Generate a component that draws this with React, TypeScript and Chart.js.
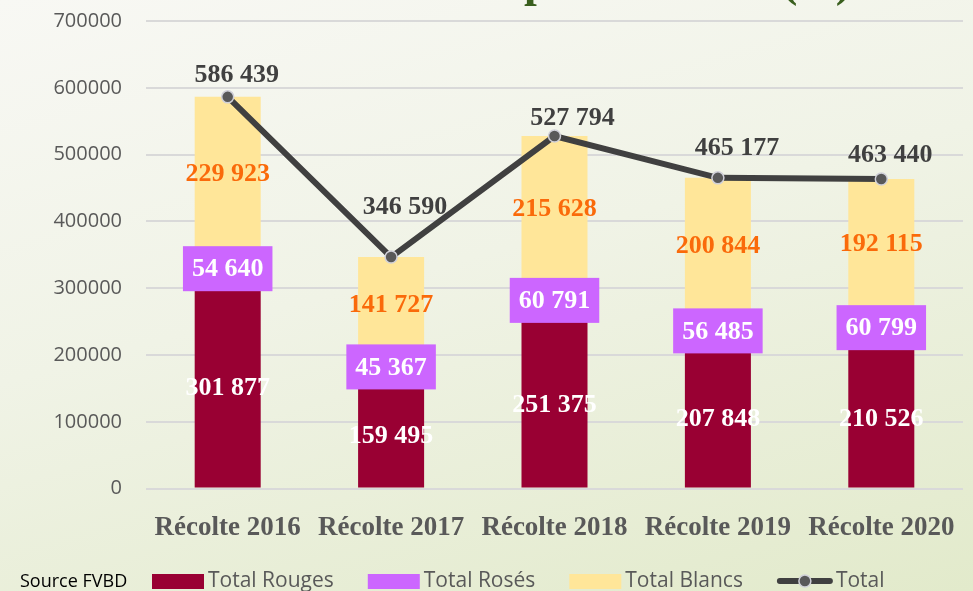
import React, { useEffect, useRef } from "react";
import { Chart, registerables } from "chart.js";
Chart.register(...registerables);

const categories = ["Récolte 2016", "Récolte 2017", "Récolte 2018", "Récolte 2019", "Récolte 2020"];
const rouges = [301877, 159495, 251375, 207848, 210526];
const roses = [54640, 45367, 60791, 56485, 60799];
const blancs = [229923, 141727, 215628, 200844, 192115];
const totals = [586439, 346590, 527794, 465177, 463440];
const seriesNames = ["Total Rouges", "Total Rosés", "Total Blancs", "Total"];
const sourceText = "Source FVBD";
const titleText = "Récoltes par couleurs (hl)";

// label placement tweaks (layout only)
const totalLabelShift = [[9, -23], [14, -51], [18, -19], [19, -31], [9, -25]];

const COL_ROUGE = "#990033";
const COL_ROSE = "#CC66FF";
const COL_BLANC = "#FFE699";
const COL_LINE = "#404040";
const COL_ORANGE = "#FA6A0A";
const LABEL_FONT = "bold 26px 'Liberation Serif', serif";
const LEGEND_FONT = "21px 'Open Sans', sans-serif";

const fmt = (v: number) => String(v).replace(/\B(?=(\d{3})+(?!\d))/g, " ");

const labelsPlugin = {
  id: "customLabels",
  afterDatasetsDraw(chart: any) {
    const ctx = chart.ctx as CanvasRenderingContext2D;
    ctx.save();
    ctx.font = LABEL_FONT;
    ctx.textAlign = "center";
    ctx.textBaseline = "middle";
    const m0 = chart.getDatasetMeta(0);
    const m1 = chart.getDatasetMeta(1);
    const m2 = chart.getDatasetMeta(2);
    const m3 = chart.getDatasetMeta(3);
    m0.data.forEach((el: any, i: number) => {
      ctx.fillStyle = "#FFFFFF";
      ctx.fillText(fmt(rouges[i]), el.x, (el.y + el.base) / 2 + 1);
    });
    m1.data.forEach((el: any, i: number) => {
      const t = fmt(roses[i]);
      const w = ctx.measureText(t).width + 18;
      const h = 45;
      const cy = (el.y + el.base) / 2;
      ctx.fillStyle = COL_ROSE;
      ctx.fillRect(el.x - w / 2, cy - h / 2, w, h);
      ctx.fillStyle = "#FFFFFF";
      ctx.fillText(t, el.x, cy + 1);
    });
    m2.data.forEach((el: any, i: number) => {
      ctx.fillStyle = COL_ORANGE;
      ctx.fillText(fmt(blancs[i]), el.x, (el.y + el.base) / 2 + 1);
    });
    m3.data.forEach((el: any, i: number) => {
      const [dx, dy] = totalLabelShift[i];
      ctx.fillStyle = COL_LINE;
      ctx.fillText(fmt(totals[i]), el.x + dx, el.y + dy + 1);
    });
    ctx.restore();
  },
  afterDraw(chart: any) {
    const ctx = chart.ctx as CanvasRenderingContext2D;
    ctx.save();
    // title (mostly clipped at top)
    ctx.font = "bold 46px 'Liberation Serif', serif";
    ctx.fillStyle = "#3A5F1E";
    ctx.textAlign = "left";
    ctx.textBaseline = "alphabetic";
    const pre = ctx.measureText("Récoltes ").width;
    ctx.fillText(titleText, 524 - pre, -4);

    // source
    ctx.font = "18px 'Open Sans', sans-serif";
    ctx.fillStyle = "#000000";
    ctx.textBaseline = "middle";
    ctx.fillText(sourceText, 20, 582);

    // legend
    ctx.font = LEGEND_FONT;
    const ly = 581;
    let x = 152;
    const colors = [COL_ROUGE, COL_ROSE, COL_BLANC];
    seriesNames.forEach((name, i) => {
      if (i < 3) {
        ctx.fillStyle = colors[i];
        ctx.fillRect(x, ly - 7, 52, 15);
        x += 56;
      } else {
        ctx.strokeStyle = COL_LINE;
        ctx.lineWidth = 6;
        ctx.lineCap = "round";
        ctx.beginPath();
        ctx.moveTo(x + 3, ly);
        ctx.lineTo(x + 53, ly);
        ctx.stroke();
        ctx.beginPath();
        ctx.arc(x + 28, ly, 6, 0, Math.PI * 2);
        ctx.fillStyle = "#595959";
        ctx.fill();
        ctx.lineWidth = 1.5;
        ctx.strokeStyle = "#D0D0D8";
        ctx.stroke();
        x += 59;
      }
      ctx.fillStyle = "#595959";
      ctx.fillText(name, x, ly);
      x += ctx.measureText(name).width + 34;
    });
    ctx.restore();
  },
};

export default function App() {
  const ref = useRef<HTMLCanvasElement | null>(null);
  useEffect(() => {
    if (!ref.current) return;
    const chart = new Chart(ref.current, {
      type: "bar",
      data: {
        labels: categories,
        datasets: [
          { type: "bar", label: seriesNames[0], data: rouges, backgroundColor: COL_ROUGE, order: 1, stack: "s" },
          { type: "bar", label: seriesNames[1], data: roses, backgroundColor: COL_ROSE, order: 1, stack: "s" },
          { type: "bar", label: seriesNames[2], data: blancs, backgroundColor: COL_BLANC, order: 1, stack: "s" },
          {
            type: "line",
            label: seriesNames[3],
            data: totals,
            borderColor: COL_LINE,
            borderWidth: 6,
            pointRadius: 6,
            pointBackgroundColor: "#595959",
            pointBorderColor: "#D0D0D8",
            pointBorderWidth: 1.5,
            order: 0,
            stack: "t",
            tension: 0,
          } as any,
        ],
      },
      options: {
        responsive: false,
        animation: false,
        devicePixelRatio: 1,
        layout: { padding: { top: 21, right: 10, left: 0, bottom: 32 } },
        datasets: { bar: { barPercentage: 0.404, categoryPercentage: 1, borderWidth: 0 } },
        plugins: { legend: { display: false }, tooltip: { enabled: false } },
        scales: {
          x: {
            stacked: true,
            grid: { display: false },
            border: { display: false },
            ticks: {
              color: "#595959",
              font: { family: "'Liberation Serif', serif", size: 27, weight: "bold" },
              padding: 15,
              maxRotation: 0,
            },
          },
          y: {
            stacked: true,
            min: 0,
            max: 700000,
            afterFit: (s: any) => {
              s.width = 146;
              s.paddingTop = 0;
              s.paddingBottom = 0;
            },
            grid: { color: "#D9D9D9", lineWidth: 2, drawTicks: false },
            border: { display: false },
            ticks: {
              stepSize: 100000,
              color: "#595959",
              padding: 24,
              font: { family: "'Open Sans', sans-serif", size: 20 },
              callback: (v: any) => String(v),
            },
          },
        },
      },
      plugins: [labelsPlugin],
    });
    return () => chart.destroy();
  }, []);
  return (
    <div
      style={{
        position: "fixed",
        left: 0,
        top: 0,
        width: 973,
        height: 591,
        overflow: "hidden",
        background: "linear-gradient(165deg, #f8f8f4 0%, #f0f3e6 45%, #e2eacb 100%)",
      }}
    >
      <canvas ref={ref} width={973} height={591} style={{ display: "block" }} />
    </div>
  );
}
